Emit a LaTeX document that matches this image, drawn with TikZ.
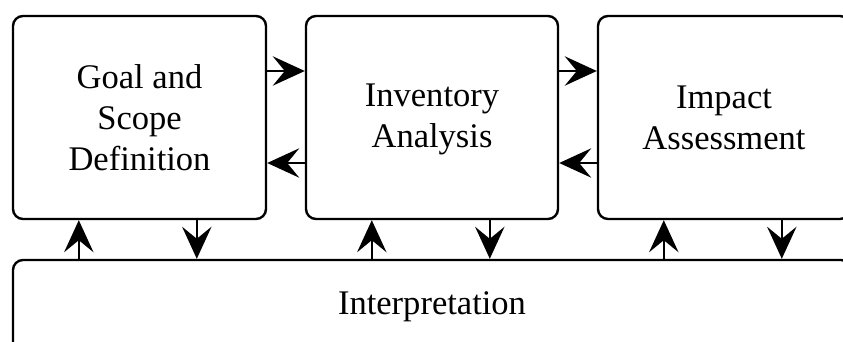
\documentclass[tikz,border=0pt]{standalone}
\usepackage{fontspec}
\newfontfamily\timesfont{Liberation Serif}
\usetikzlibrary{arrows.meta,calc}
\begin{document}
\begin{tikzpicture}[x=0.75pt,y=-0.75pt,
  box/.style={draw,line width=1.8pt,rounded corners=7.5pt,minimum height=152.25pt,
    inner sep=0pt,align=center,font=\timesfont\fontsize{25.9}{30.75}\selectfont},
  arr/.style={line width=1.8pt,-{Stealth[length=24pt,width=22pt,inset=9pt]}}]
\useasboundingbox (0,0) rectangle (843,342);
\clip (0,0) rectangle (843,342);
\node[box,minimum width=189.75pt] (b1) at (139.5,117.5) {Goal and\\Scope\\Definition};
\node[box,minimum width=189pt,text depth=3pt] (b2) at (432,117.5) {Inventory\\Analysis};
\node[box,minimum width=189pt] (b3) at (724,117.5) {Impact\\Assessment};
\node[box,minimum width=628.5pt,minimum height=70.5pt] (interp) at (432,307) {Interpretation};
% horizontal arrows
\draw[arr] ($(b1.east)+(0,-46.5)$) -- ($(b2.west)+(0,-46.5)$);
\draw[arr] ($(b2.west)+(0,45.5)$) -- ($(b1.east)+(0,45.5)$);
\draw[arr] ($(b2.east)+(0,-46.5)$) -- ($(b3.west)+(0,-46.5)$);
\draw[arr] ($(b3.west)+(0,45.5)$) -- ($(b2.east)+(0,45.5)$);
% vertical arrows
\foreach \b in {b1,b2,b3}{
  \coordinate (u\b) at ($(\b.south west)+(67,0)$);
  \coordinate (d\b) at ($(\b.south west)+(185,0)$);
  \draw[arr] (u\b |- interp.north) -- (u\b);
  \draw[arr] (d\b) -- (d\b |- interp.north);
}
\end{tikzpicture}
\end{document}
